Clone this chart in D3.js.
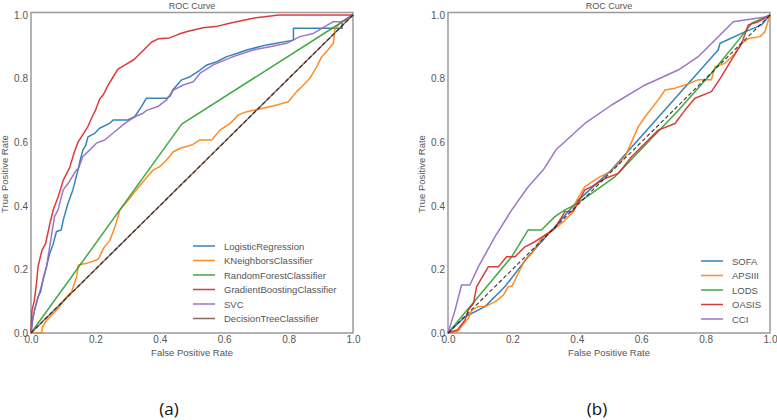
<!DOCTYPE html>
<html>
<head>
<meta charset="utf-8">
<script src="https://cdn.jsdelivr.net/npm/d3@7"></script>
<style>
  html, body { margin: 0; padding: 0; background: #fff; }
  svg { display: block; }
  text { font-family: "Liberation Sans", Arial, sans-serif; }
</style>
</head>
<body>
<svg id="chart" width="777" height="420"></svg>
<script>
// ---------- data ----------
const tickValues = [0, 0.2, 0.4, 0.6, 0.8, 1.0];
const tickLabels = ["0.0", "0.2", "0.4", "0.6", "0.8", "1.0"];
const chartTitle = "ROC Curve";
const xLabel = "False Positive Rate";
const yLabel = "True Positive Rate";
const panelCaptions = ["(a)", "(b)"];

// Panel (a) series names
const namesA = ["LogisticRegression", "KNeighborsClassifier", "RandomForestClassifier",
                "GradientBoostingClassifier", "SVC", "DecisionTreeClassifier"];
const colorsA = ["#1f77b4", "#ff7f0e", "#2ca02c", "#d62728", "#9467bd", "#8c564b"];

const lrRoc = [[0,0],[0.005,0.04],[0.011,0.072],[0.022,0.114],[0.03,0.13],[0.037,0.167],[0.048,0.208],[0.058,0.25],
  [0.068,0.277],[0.079,0.319],[0.094,0.324],[0.1,0.355],[0.115,0.408],[0.13,0.45],[0.146,0.513],[0.152,0.54],
  [0.161,0.575],[0.17,0.59],[0.177,0.617],[0.198,0.628],[0.213,0.644],[0.244,0.659],[0.255,0.67],[0.301,0.67],
  [0.322,0.68],[0.343,0.712],[0.358,0.738],[0.42,0.738],[0.432,0.745],[0.44,0.764],[0.468,0.796],[0.494,0.806],
  [0.525,0.827],[0.546,0.843],[0.577,0.853],[0.608,0.869],[0.639,0.879],[0.67,0.89],[0.732,0.906],[0.815,0.921],
  [0.815,0.958],[0.966,0.958],[0.966,0.979],[1,1]];
const knnRoc = [[0,0],[0.033,0.0],[0.036,0.02],[0.045,0.035],[0.059,0.051],[0.085,0.078],[0.111,0.114],[0.126,0.13],
  [0.142,0.177],[0.147,0.214],[0.173,0.219],[0.209,0.232],[0.225,0.266],[0.245,0.292],[0.261,0.334],[0.276,0.387],
  [0.302,0.418],[0.343,0.47],[0.38,0.513],[0.4,0.523],[0.421,0.544],[0.442,0.57],[0.463,0.581],[0.499,0.591],
  [0.525,0.607],[0.561,0.607],[0.587,0.638],[0.618,0.659],[0.644,0.686],[0.67,0.696],[0.721,0.707],[0.763,0.717],
  [0.799,0.727],[0.825,0.759],[0.846,0.78],[0.866,0.801],[0.887,0.837],[0.903,0.869],[0.918,0.885],[0.939,0.911],
  [0.944,0.958],[0.96,0.974],[1,1]];
const rfRoc = [[0,0],[0.468,0.657],[1,1]];
const gbRoc = [[0,0],[0.003,0.07],[0.01,0.1],[0.017,0.155],[0.022,0.21],[0.034,0.26],[0.045,0.28],[0.06,0.35],
  [0.07,0.39],[0.085,0.43],[0.1,0.48],[0.12,0.52],[0.135,0.57],[0.146,0.6],[0.165,0.63],[0.177,0.65],[0.19,0.68],
  [0.2,0.7],[0.213,0.735],[0.225,0.75],[0.24,0.78],[0.255,0.805],[0.27,0.83],[0.295,0.845],[0.32,0.86],
  [0.335,0.875],[0.35,0.89],[0.375,0.915],[0.395,0.925],[0.43,0.928],[0.46,0.94],[0.485,0.948],[0.535,0.96],
  [0.58,0.965],[0.62,0.975],[0.69,0.99],[0.77,1.0],[1,1]];
const svcRoc = [[0,0],[0.006,0.05],[0.017,0.094],[0.032,0.146],[0.048,0.208],[0.058,0.271],[0.073,0.366],
  [0.084,0.387],[0.1,0.45],[0.115,0.47],[0.141,0.513],[0.146,0.513],[0.161,0.555],[0.182,0.575],[0.203,0.597],
  [0.229,0.607],[0.26,0.633],[0.291,0.659],[0.322,0.68],[0.348,0.691],[0.359,0.7],[0.394,0.712],[0.421,0.733],
  [0.442,0.764],[0.473,0.78],[0.504,0.79],[0.525,0.817],[0.566,0.843],[0.628,0.869],[0.69,0.89],[0.742,0.9],
  [0.794,0.911],[0.835,0.932],[0.877,0.942],[0.939,0.979],[0.966,0.979],[1,1]];
const dtRoc = [[0,0],[1,1]];

// Panel (b) series names
const namesB = ["SOFA", "APSIII", "LODS", "OASIS", "CCI"];
const colorsB = ["#1f77b4", "#ff7f0e", "#2ca02c", "#d62728", "#9467bd"];

const sofaRoc = [[0,0],[0.053,0.051],[0.115,0.083],[0.177,0.146],[0.249,0.24],[0.332,0.334],[0.405,0.418],
  [0.508,0.513],[0.839,0.89],[0.845,0.911],[0.922,0.947],[0.974,0.969],[1,1]];
const apsRoc = [[0,0],[0.03,0.005],[0.042,0.02],[0.063,0.046],[0.074,0.072],[0.094,0.083],[0.115,0.083],[0.146,0.098],
  [0.172,0.119],[0.187,0.146],[0.198,0.146],[0.213,0.177],[0.239,0.23],[0.26,0.25],[0.286,0.292],[0.306,0.308],
  [0.332,0.329],[0.358,0.35],[0.384,0.376],[0.4,0.418],[0.425,0.46],[0.47,0.49],[0.508,0.51],[0.55,0.554],
  [0.591,0.649],[0.612,0.68],[0.653,0.733],[0.674,0.764],[0.705,0.77],[0.736,0.78],[0.777,0.796],[0.818,0.796],
  [0.829,0.837],[0.86,0.848],[0.891,0.879],[0.912,0.911],[0.933,0.926],[0.969,0.932],[0.984,0.947],[1,1]];
const lodsRoc = [[0,0],[0.042,0.051],[0.094,0.114],[0.146,0.177],[0.198,0.24],[0.249,0.324],[0.29,0.324],
  [0.332,0.366],[0.363,0.387],[0.394,0.403],[0.446,0.439],[0.519,0.492],[0.715,0.70],[0.818,0.817],[0.902,0.921],
  [0.943,0.974],[1,1]];
const oasisRoc = [[0,0],[0.03,0.01],[0.053,0.041],[0.063,0.072],[0.079,0.093],[0.089,0.146],[0.125,0.208],[0.156,0.208],
  [0.182,0.24],[0.208,0.24],[0.239,0.271],[0.27,0.287],[0.301,0.308],[0.332,0.329],[0.363,0.382],[0.389,0.382],
  [0.425,0.45],[0.446,0.46],[0.488,0.486],[0.529,0.502],[0.57,0.554],[0.612,0.597],[0.653,0.638],[0.705,0.659],
  [0.736,0.701],[0.767,0.738],[0.818,0.759],[0.849,0.806],[0.88,0.858],[0.912,0.911],[0.933,0.969],[0.964,0.979],[1,1]];
const cciRoc = [[0,0],[0.022,0.072],[0.042,0.151],[0.068,0.151],[0.094,0.208],[0.146,0.303],[0.198,0.387],
  [0.249,0.46],[0.296,0.513],[0.337,0.578],[0.425,0.659],[0.508,0.717],[0.612,0.78],[0.715,0.827],[0.777,0.869],
  [0.886,0.979],[0.922,0.984],[0.995,0.995],[1,1]];
const chanceLine = [[0,0],[1,1]];

const seriesA = [lrRoc, knnRoc, rfRoc, gbRoc, svcRoc, dtRoc];
const seriesB = [sofaRoc, apsRoc, lodsRoc, oasisRoc, cciRoc];

// ---------- drawing ----------
const svg = d3.select("#chart");
const textColor = "#555";

function panel(cfg) {
  const x = d3.scaleLinear().domain([0, 1]).range([cfg.left, cfg.right]);
  const y = d3.scaleLinear().domain([0, 1]).range([333, 15]);
  const g = svg.append("g");

  // frame
  g.append("rect")
    .attr("x", cfg.left).attr("y", 12.5)
    .attr("width", cfg.right - cfg.left).attr("height", 333 - 12.5)
    .attr("fill", "none").attr("stroke", "#9a9a9a").attr("stroke-width", 1.5);

  // axes
  const xa = g.append("g").attr("transform", `translate(0,333)`)
    .call(d3.axisBottom(x).tickValues(tickValues).tickFormat((d, i) => tickLabels[i]).tickSize(0).tickPadding(3));
  const ya = g.append("g").attr("transform", `translate(${cfg.left},0)`)
    .call(d3.axisLeft(y).tickValues(tickValues).tickFormat((d, i) => tickLabels[i]).tickSize(0).tickPadding(3));
  [xa, ya].forEach(a => {
    a.select(".domain").remove();
    a.selectAll("text").attr("fill", textColor).style("font-size", "10px")
      .style("font-family", "'Liberation Sans', Arial, sans-serif");
  });

  const line = d3.line().x(d => x(d[0])).y(d => y(d[1]));
  const clip = g.append("g");

  cfg.series.forEach((s, i) => {
    clip.append("path").datum(s).attr("d", line)
      .attr("fill", "none").attr("stroke", cfg.colors[i])
      .attr("stroke-width", 1.5).attr("stroke-linejoin", "round").attr("opacity", 0.9);
  });
  // chance line
  clip.append("path").datum(chanceLine).attr("d", line)
    .attr("fill", "none").attr("stroke", "#222").attr("stroke-width", 1.2)
    .attr("stroke-dasharray", "4,2.5").attr("opacity", 0.85);

  // title
  g.append("text").attr("x", (cfg.left + cfg.right) / 2).attr("y", 9)
    .attr("text-anchor", "middle").attr("fill", textColor).style("font-size", "9px").text(chartTitle);
  // x label
  g.append("text").attr("x", (cfg.left + cfg.right) / 2).attr("y", 356)
    .attr("text-anchor", "middle").attr("fill", textColor).style("font-size", "9.5px").text(xLabel);
  // y label
  g.append("text").attr("transform", `translate(${cfg.ylabX},174) rotate(-90)`)
    .attr("text-anchor", "middle").attr("fill", textColor).style("font-size", "9.5px").text(yLabel);

  // legend
  const lg = g.append("g");
  cfg.names.forEach((n, i) => {
    const yy = cfg.legY + i * 14.5;
    lg.append("line").attr("x1", cfg.legX).attr("x2", cfg.legX + 22)
      .attr("y1", yy).attr("y2", yy).attr("stroke", cfg.colors[i]).attr("stroke-width", 1.5).attr("opacity", 0.9);
    lg.append("text").attr("x", cfg.legX + 31).attr("y", yy + 3.5)
      .attr("fill", textColor).style("font-size", "9.5px").text(n);
  });

  // caption
  svg.append("text").attr("x", cfg.capX).attr("y", 415).attr("text-anchor", "middle")
    .attr("fill", "#111").style("font-size", "17px").style("font-family", "'Open Sans', 'Noto Sans', sans-serif")
    .text(cfg.caption);
}

panel({ left: 31, right: 353, series: seriesA, colors: colorsA, names: namesA,
        legX: 193, legY: 246, ylabX: 8, capX: 169, caption: panelCaptions[0] });
panel({ left: 448, right: 770, series: seriesB, colors: colorsB, names: namesB,
        legX: 701, legY: 261, ylabX: 425, capX: 597, caption: panelCaptions[1] });
</script>
</body>
</html>
